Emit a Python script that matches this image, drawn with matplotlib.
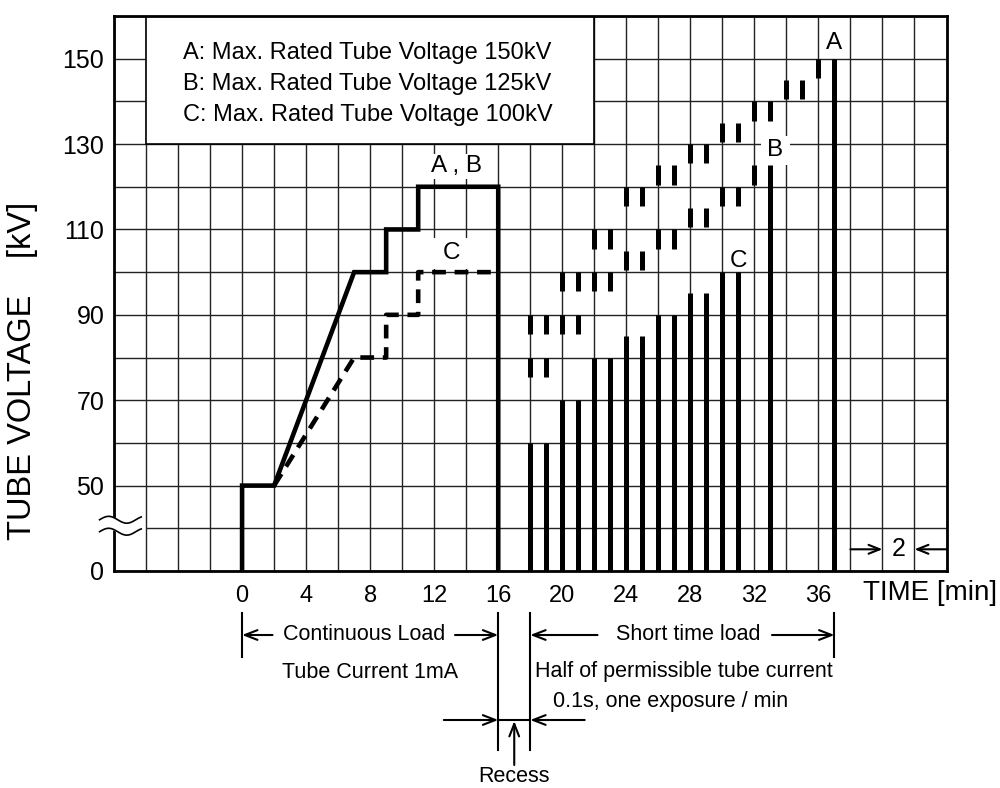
import numpy as np
import matplotlib
matplotlib.use('Agg')
import matplotlib.pyplot as plt
from matplotlib import font_manager
from matplotlib.patches import Rectangle
from matplotlib.transforms import blended_transform_factory

plt.rcParams['font.family'] = ['Liberation Sans', 'DejaVu Sans']

# Continuous load (0-16 min), tube current 1 mA
ab_time = [0, 0, 2, 7, 9, 9, 11, 11, 16, 16]
ab_kv = [0, 50, 50, 100, 100, 110, 110, 120, 120, 0]
c_time = [2, 7, 9, 9, 11, 11, 16]
c_kv = [50, 80, 80, 90, 90, 100, 100]

# Short time load, one exposure per minute from minute 18
exp_min = list(range(18, 38))
a_short = [90, 90, 100, 100, 110, 110, 120, 120, 125, 125,
           130, 130, 135, 135, 140, 140, 145, 145, 150, 150]
b_short = [80, 80, 90, 90, 100, 100, 105, 105, 110, 110,
           115, 115, 120, 120, 125, 125]
c_short = [60, 60, 70, 70, 80, 80, 85, 85, 90, 90, 95, 95, 100, 100]

x_ticks = [0, 4, 8, 12, 16, 20, 24, 28, 32, 36]
y_ticks = [0, 50, 70, 90, 110, 130, 150]
legend_lines = ['A: Max. Rated Tube Voltage 150kV',
                'B: Max. Rated Tube Voltage 125kV',
                'C: Max. Rated Tube Voltage 100kV']

# the lower texts in the original are set in a narrow face
try:
    font_manager.findfont(font_manager.FontProperties(family='Liberation Sans Narrow'),
                          fallback_to_default=False)
    narrow = dict(family=['Liberation Sans Narrow', 'DejaVu Sans'], fontsize=19)
    tick_font = dict(family=['Liberation Sans Narrow', 'DejaVu Sans'], size=19)
except ValueError:
    narrow = dict(fontsize=15.5)
    tick_font = dict(size=17)


def fwd(v):
    # 0..50 kV squeezed into two grid rows (axis break)
    v = np.asarray(v, dtype=float)
    return np.where(v < 50, 30 + 0.4 * v, v)


def inv(d):
    d = np.asarray(d, dtype=float)
    return np.where(d < 50, (d - 30) / 0.4, d)


fig = plt.figure(figsize=(10, 7.88), dpi=100)
ax = fig.add_axes([0.114, 0.2754, 0.8325, 0.7043])
ax.set_yscale('function', functions=(fwd, inv))
ax.set_xlim(-8, 44)
ax.set_ylim(0, 160)

# grid
ax.set_xticks(x_ticks)
ax.set_xticks(range(-8, 45, 2), minor=True)
ax.set_yticks(y_ticks)
ax.set_yticks(range(60, 161, 20), minor=True)
ax.grid(which='both', color='#222222', lw=1.0)
ax.set_axisbelow(True)
ax.hlines(25, -6, 44, color='#222222', lw=1.0, zorder=0.6)
ax.tick_params(which='both', length=0)
ax.tick_params(axis='x', pad=10)
ax.tick_params(axis='y', pad=7, labelsize=18)
for lab in ax.get_xticklabels():
    lab.set_fontproperties(font_manager.FontProperties(**tick_font))
for s in ax.spines.values():
    s.set_linewidth(2)
    s.set_zorder(6)

# legend box
ax.add_patch(Rectangle((-6, 130), 28, 30, fc='white', ec='black', lw=1.2, zorder=2))
for i, txt in enumerate(legend_lines):
    ax.text(-3.7, 151.4 - 7.25 * i, txt, fontsize=17, va='center', ha='left', zorder=3)

# continuous load curves
ax.plot(ab_time, ab_kv, color='black', lw=3.3, solid_joinstyle='miter', zorder=4)
ax.plot(c_time, c_kv, color='black', lw=3.3, dashes=(3.0, 1.9),
        dash_capstyle='butt', zorder=4)

# short time load exposures
nb, na = len(b_short), len(a_short)
ax.vlines(exp_min[:len(c_short)], 0, c_short, color='black', lw=3.6, zorder=4)
ax.vlines(exp_min[:nb - 1], np.array(b_short[:-1]) - 4.5, b_short[:-1],
          color='black', lw=3.6, zorder=4)
ax.vlines(exp_min[nb - 1], 0, b_short[-1], color='black', lw=3.6, zorder=4)
ax.vlines(exp_min[:na - 1], np.array(a_short[:-1]) - 4.5, a_short[:-1],
          color='black', lw=3.6, zorder=4)
ax.vlines(exp_min[na - 1], 0, a_short[-1], color='black', lw=3.6, zorder=4)

# curve labels
wb = dict(facecolor='white', edgecolor='none', pad=1)
ax.text(13.4, 124.8, 'A , B', fontsize=17.5, ha='center', va='center', bbox=wb, zorder=3)
ax.add_patch(Rectangle((10.1, 100.8), 5.7, 7.2, fc='white', ec='none', zorder=2))
ax.text(13.1, 104.6, 'C', fontsize=17.5, ha='center', va='center', zorder=3)
ax.add_patch(Rectangle((32.4, 125.2), 1.8, 6.8, fc='white', ec='none', zorder=2))
ax.text(33.3, 128.6, 'B', fontsize=17.5, ha='center', va='center', zorder=3)
ax.text(31.0, 102.6, 'C', fontsize=17.5, ha='center', va='center', zorder=3)
ax.text(37.0, 153.6, 'A', fontsize=17.5, ha='center', va='center', zorder=3)

# 2 min width marker
arr = dict(arrowstyle='->,head_length=0.8,head_width=0.32', color='black',
           lw=1.5, shrinkA=0, shrinkB=0)
ax.annotate('', xy=(40, 12.7), xytext=(38, 12.7), arrowprops=arr, zorder=5)
ax.annotate('', xy=(42, 12.7), xytext=(44, 12.7), arrowprops=arr, zorder=5)
ax.text(41, 12.7, '2', fontsize=18, ha='center', va='center', bbox=wb, zorder=5)

# axis break symbol
wx = np.linspace(-8.9, -6.3, 60)
wave = np.sin(np.linspace(0, 2.3 * np.pi, 60))
ax.fill_between(wx, 23 + 2 * wave, 30 + 2 * wave, color='white', zorder=7, clip_on=False)
ax.plot(wx, 30 + 2 * wave, color='black', lw=1.2, zorder=8, clip_on=False)
ax.plot(wx, 23 + 2 * wave, color='black', lw=1.2, zorder=8, clip_on=False)


def fy(p):
    return 1 - p / 788


fig.text(0.023, fy(371), 'TUBE VOLTAGE    [kV]', fontsize=23.5, rotation=90,
         ha='center', va='center')

# annotations below the time axis
tb = blended_transform_factory(ax.transData, fig.transFigure)

fig.text(0.863, fy(593), 'TIME [min]', fontsize=20, ha='left', va='center')

for x, y0, y1 in [(0, 613, 657), (16, 613, 750), (18, 613, 750), (37, 613, 657)]:
    ax.plot([x, x], [fy(y0), fy(y1)], transform=tb, color='black', lw=1.5, clip_on=False)

arr2 = dict(arrowstyle='->,head_length=0.9,head_width=0.35', color='black',
            lw=1.5, shrinkA=0, shrinkB=0)
for x0, x1, y in [(1.9, 0, 635), (13.3, 16, 635), (22.2, 18, 635), (33.1, 37, 635),
                  (12.6, 16, 720), (21.4, 18, 720)]:
    ax.annotate('', xy=(x1, fy(y)), xytext=(x0, fy(y)), xycoords=tb, textcoords=tb,
                arrowprops=arr2, annotation_clip=False)
ax.annotate('', xy=(17, fy(721)), xytext=(17, fy(765)), xycoords=tb, textcoords=tb,
            arrowprops=arr2, annotation_clip=False)
ax.plot([16, 18], [fy(720), fy(720)], transform=tb, color='black', lw=1.5, clip_on=False)

ax.text(7.6, fy(635), 'Continuous Load', transform=tb, ha='center', va='center', **narrow)
ax.text(27.9, fy(635), 'Short time load', transform=tb, ha='center', va='center', **narrow)
ax.text(8.0, fy(672), 'Tube Current 1mA', transform=tb, ha='center', va='center', **narrow)
ax.text(27.6, fy(672), 'Half of permissible tube current', transform=tb,
        ha='center', va='center', **narrow)
ax.text(26.75, fy(702), '0.1s, one exposure / min', transform=tb,
        ha='center', va='center', **narrow)
ax.text(17, fy(777), 'Recess', transform=tb, ha='center', va='center', **narrow)

fig.savefig('out.png', dpi=100)
